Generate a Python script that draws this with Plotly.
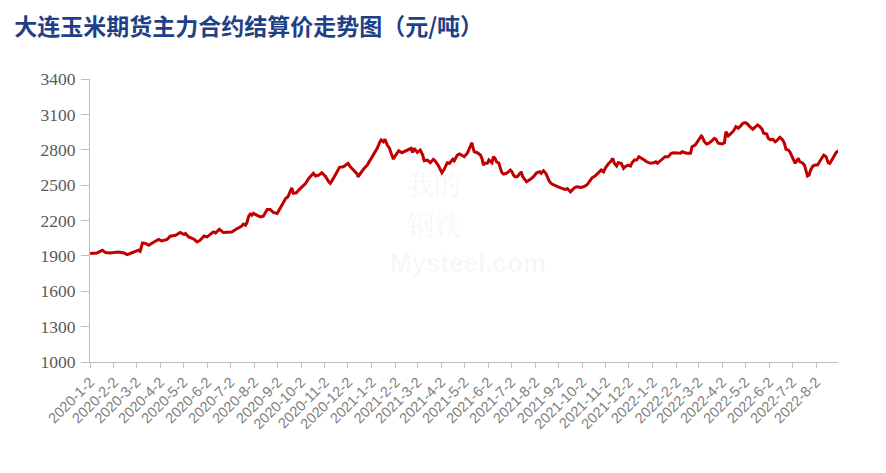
import pandas as pd
import plotly.graph_objects as go

title_text = "大连玉米期货主力合约结算价走势图（元/吨）"
start_date = "2020-01-02"

# days after start_date
day_offsets = [
    0, 5, 9, 16, 20, 26, 33, 37, 44, 48, 52, 59, 63, 65, 68, 72, 76, 83, 89, 93,
    100, 104, 111, 117, 122, 124, 128, 135, 139, 143, 148, 152, 156, 160,
    163, 168, 173, 180, 184, 189, 193, 197, 199, 202, 204, 206, 208, 210, 212, 217,
    221, 225, 230, 234, 238, 243, 247, 251, 254, 257, 260, 262, 264, 268, 271, 275,
    280, 284, 286, 290, 293, 297, 301, 306, 310, 312, 316, 321, 324,
    329, 332, 335, 338, 342, 347, 348, 351, 355, 360, 364, 368, 373, 376, 378, 381,
    383, 386, 389, 391, 394, 397, 401, 405, 409, 414, 417, 419, 421, 425, 429, 432,
    434, 438, 442, 446, 448, 452, 455, 457, 460, 464, 467, 469, 471, 473, 477, 480,
    483, 486,
    490, 493, 496, 497, 499, 503, 507, 509, 511, 513, 516, 518, 520, 522, 524, 526,
    528, 531, 533, 535, 537, 541, 546, 548, 550, 552, 555, 558, 560, 562, 565, 567,
    572, 576, 580, 584, 586, 589, 592, 594, 597, 600, 604, 608, 613, 617, 620, 624,
    627, 630, 633, 637, 641, 645, 647, 650,
    652, 656, 660, 664, 667, 669, 673, 676, 679, 681, 684, 686, 690, 693, 695, 699,
    702, 704, 707, 710, 713, 717, 720, 723, 728, 732, 735, 737, 741, 744, 747, 751,
    755, 758, 762, 767, 769, 772, 775, 780, 782, 786, 790, 794, 795, 798, 801, 804,
    808, 811,
    813, 816, 821, 824, 826, 829, 832, 836, 839, 842, 845, 848, 851, 854, 857, 861,
    864, 867, 870, 873, 875, 879, 881, 884, 887, 890, 892, 896, 899, 902, 904, 907,
    909, 912, 914, 916, 918, 920, 922, 925, 928, 930, 932, 934, 936, 939, 942, 945,
    947, 950, 953, 956, 959, 961, 963, 966, 969, 972,
]

settle_price = [
    1920, 1920, 1925, 1948, 1928, 1925, 1933, 1933, 1925, 1911, 1920, 1942, 1948, 1939, 2010, 2005, 1990, 2018, 2039, 2027,
    2039, 2067, 2075, 2098, 2081, 2090, 2061, 2041, 2018, 2033, 2069, 2061, 2081, 2103,
    2095, 2126, 2098, 2103, 2103, 2124, 2137, 2152, 2169, 2160, 2188, 2237, 2254, 2245, 2260, 2245,
    2231, 2237, 2294, 2294, 2268, 2260, 2302, 2345, 2387, 2401, 2443, 2477, 2430, 2435, 2458, 2481,
    2515, 2557, 2571, 2600, 2577, 2585, 2605, 2571, 2528, 2515, 2557, 2613, 2651,
    2656, 2670, 2685, 2656, 2628, 2594, 2571, 2600, 2634, 2670, 2713, 2755, 2812, 2860, 2883, 2868,
    2889, 2840, 2812, 2770, 2721, 2755, 2792, 2775, 2789, 2804, 2812, 2778, 2812, 2778, 2798, 2755,
    2707, 2713, 2690, 2719, 2707, 2670, 2634, 2605, 2634, 2690, 2685, 2698, 2719, 2707, 2755, 2764,
    2755, 2741,
    2770, 2812, 2860, 2826, 2783, 2775, 2755, 2727, 2670, 2685, 2685, 2713, 2698, 2690, 2741, 2727,
    2698, 2685, 2642, 2605, 2594, 2600, 2628, 2613, 2585, 2571, 2571, 2600, 2613, 2571, 2543, 2528,
    2549, 2571, 2605, 2613, 2600, 2622, 2600, 2571, 2528, 2509, 2500, 2486, 2472, 2464, 2469, 2443,
    2464, 2481, 2486, 2481, 2486, 2500, 2515, 2549,
    2562, 2577, 2600, 2628, 2613, 2642, 2679, 2698, 2727, 2685, 2662, 2690, 2685, 2642, 2656, 2670,
    2662, 2690, 2713, 2713, 2741, 2727, 2713, 2698, 2685, 2690, 2698, 2685, 2707, 2727, 2741, 2741,
    2770, 2775, 2770, 2770, 2783, 2775, 2770, 2770, 2826, 2840, 2883, 2917, 2911, 2868, 2849, 2855,
    2877, 2897,
    2889, 2855, 2849, 2860, 2953, 2917, 2934, 2962, 2996, 2982, 3002, 3025, 3030, 3019, 2996, 2974,
    2991, 3010, 2996, 2974, 2940, 2934, 2897, 2883, 2889, 2868, 2877, 2906, 2889, 2855, 2804, 2798,
    2783, 2741, 2713, 2685, 2707, 2727, 2698, 2690, 2670, 2613, 2577, 2585, 2628, 2662, 2670, 2670,
    2690, 2719, 2755, 2741, 2690, 2685, 2713, 2741, 2775, 2792,
]

tick_dates = pd.date_range("2020-01-01", "2022-08-01", freq="MS") + pd.Timedelta(days=1)
tick_labels = [f"{d.year}-{d.month}-{d.day}" for d in tick_dates]
y_ticks = [1000, 1300, 1600, 1900, 2200, 2500, 2800, 3100, 3400]

dates = pd.Timestamp(start_date) + pd.to_timedelta(day_offsets, unit="D")

fig = go.Figure()
fig.add_trace(go.Scatter(
    x=dates, y=settle_price, mode="lines",
    line=dict(color="#c00000", width=3),
    hoverinfo="x+y", showlegend=False,
))

# faint watermark
wm_font = dict(family="Noto Serif CJK SC, Noto Sans CJK SC", size=27, color="rgba(200,80,90,0.08)")
fig.add_annotation(text="我的", xref="paper", yref="paper", x=0.46, y=0.63,
                   showarrow=False, font=wm_font)
fig.add_annotation(text="钢铁", xref="paper", yref="paper", x=0.46, y=0.485,
                   showarrow=False, font=dict(wm_font, color="rgba(70,100,170,0.07)"))
fig.add_annotation(text="Mysteel.com", xref="paper", yref="paper", x=0.505, y=0.35,
                   showarrow=False,
                   font=dict(family="Liberation Sans", size=26, color="rgba(0,0,0,0.045)", weight="bold"))

fig.update_layout(
    width=886, height=473,
    margin=dict(l=82, r=56, t=71, b=119, autoexpand=False),
    paper_bgcolor="white", plot_bgcolor="white",
    title=dict(text=title_text, x=0.007, xanchor="left", y=0.96, yanchor="middle",
               font=dict(family="Noto Sans CJK SC", size=23, color="#1f3f86", weight="bold")),
    xaxis=dict(
        type="date", automargin=False,
        range=["2020-01-01 20:00", "2022-08-30 14:00"],
        tickmode="array", tickvals=tick_dates, ticktext=tick_labels,
        tickangle=-45,
        tickfont=dict(family="Liberation Sans", size=14.5, color="#808080"),
        showline=True, linecolor="#bfbfbf", linewidth=1,
        ticks="outside", ticklen=5, tickcolor="#bfbfbf",
        showgrid=False, zeroline=False,
    ),
    yaxis=dict(
        range=[1000, 3400], automargin=False,
        tickmode="array", tickvals=y_ticks,
        tickfont=dict(family="Liberation Serif", size=17.5, color="#595959"),
        showline=True, linecolor="#bfbfbf", linewidth=1,
        ticks="outside", ticklen=8, tickcolor="#bfbfbf",
        ticklabelstandoff=2,
        showgrid=False, zeroline=False,
    ),
)

fig.write_html("out.html")
